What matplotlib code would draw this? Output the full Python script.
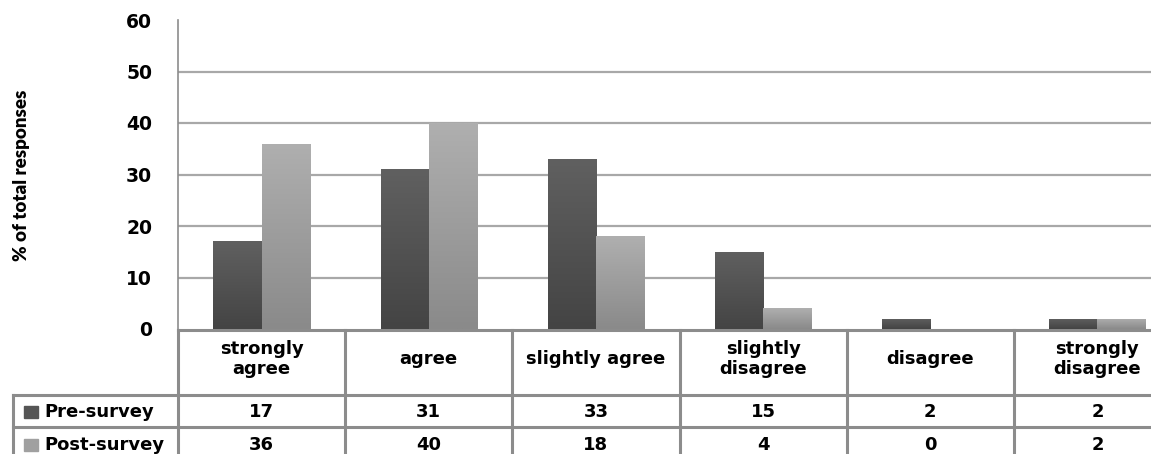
import numpy as np
import matplotlib
matplotlib.use("Agg")
import matplotlib.pyplot as plt
from matplotlib.transforms import blended_transform_factory

plt.rcParams['font.family'] = ['DejaVu Sans']
plt.rcParams['font.weight'] = 'bold'

categories = ["strongly\nagree", "agree", "slightly agree", "slightly\ndisagree",
              "disagree", "strongly\ndisagree"]
series_names = ["Pre-survey", "Post-survey"]
pre_survey = [17, 31, 33, 15, 2, 2]
post_survey = [36, 40, 18, 4, 0, 2]
y_ticks = [0, 10, 20, 30, 40, 50, 60]

# top/bottom shades of each series gradient
shades = [("#606060", "#444444"), ("#afafaf", "#8a8a8a")]
legend_cols = ["#555555", "#a0a0a0"]

W, H = 1151, 454
fig = plt.figure(figsize=(W / 100, H / 100), dpi=100)
fig.patch.set_facecolor("white")

# plot area runs a little past the right edge of the figure
ax = fig.add_axes([178 / W, 1 - 329 / H, 1003 / W, 309 / H])
ax.set_xlim(-0.5, len(categories) - 0.5)
ax.set_ylim(0, 60)
ax.set_yticks(y_ticks)
ax.tick_params(axis="y", length=0, pad=18.5, labelsize=13.5)
ax.set_xticks([])
for s in ["top", "right", "bottom"]:
    ax.spines[s].set_visible(False)
ax.spines["left"].set_color("#8c8c8c")
ax.spines["left"].set_linewidth(1.2)
for t in y_ticks[1:-1]:
    ax.axhline(t, color="#a8a8a8", lw=1.6, zorder=0)

x = np.arange(len(categories))
bw = 0.288
grad = np.linspace(0, 1, 100).reshape(-1, 1)
for k, vals in enumerate([pre_survey, post_survey]):
    bars = ax.bar(x + (k - 0.5) * bw, vals, width=bw, color=shades[k][1], lw=0, zorder=2)
    cmap = matplotlib.colors.LinearSegmentedColormap.from_list("g%d" % k, [shades[k][1], shades[k][0]])
    for b in bars:
        if b.get_height() <= 0:
            continue
        x0, y0 = b.get_x(), b.get_y()
        im = ax.imshow(grad, cmap=cmap, origin="lower", aspect="auto",
                       extent=[x0, x0 + b.get_width(), y0, y0 + b.get_height()], zorder=3)
        im.set_clip_path(b)
ax.set_xlim(-0.5, len(categories) - 0.5)
ax.set_ylim(0, 60)

fig.text(22 / W, 1 - 175 / H, "% of total responses", rotation=90, ha="center",
         va="center", fontsize=13.5, fontweight="heavy", family=["Lato", "DejaVu Sans"])

# data table under the plot
tr = blended_transform_factory(ax.transData, fig.transFigure)
def fy(p):
    return 1 - p / H

grid_kw = dict(color="#8c8c8c", lw=2.2, clip_on=False)
bottom = 470
ax.plot([-0.5, len(categories) - 0.5], [fy(330)] * 2, transform=tr, **grid_kw)
for p in [395, 427]:
    fig.add_artist(plt.Line2D([13 / W, 1.05], [fy(p)] * 2, **grid_kw))
for i in range(len(categories) + 1):
    ax.plot([i - 0.5] * 2, [fy(330), fy(bottom)], transform=tr, **grid_kw)
fig.add_artist(plt.Line2D([13 / W] * 2, [fy(395), fy(bottom)], **grid_kw))

for i, c in enumerate(categories):
    ax.text(i, fy(359), c, transform=tr, ha="center", va="center", fontsize=13,
            fontweight="bold", linespacing=1.2)
    ax.text(i, fy(412), str(pre_survey[i]), transform=tr, ha="center", va="center",
            fontsize=13, fontweight="bold")
    ax.text(i, fy(445), str(post_survey[i]), transform=tr, ha="center", va="center",
            fontsize=13, fontweight="bold")

for k, (name, p) in enumerate(zip(series_names, [412, 445])):
    fig.add_artist(plt.Rectangle((24 / W, fy(p + 6)), 14 / W, 12 / H, color=legend_cols[k]))
    fig.text(44 / W, fy(p), name, ha="left", va="center", fontsize=13, fontweight="bold")

fig.savefig("out.png", dpi=100)
